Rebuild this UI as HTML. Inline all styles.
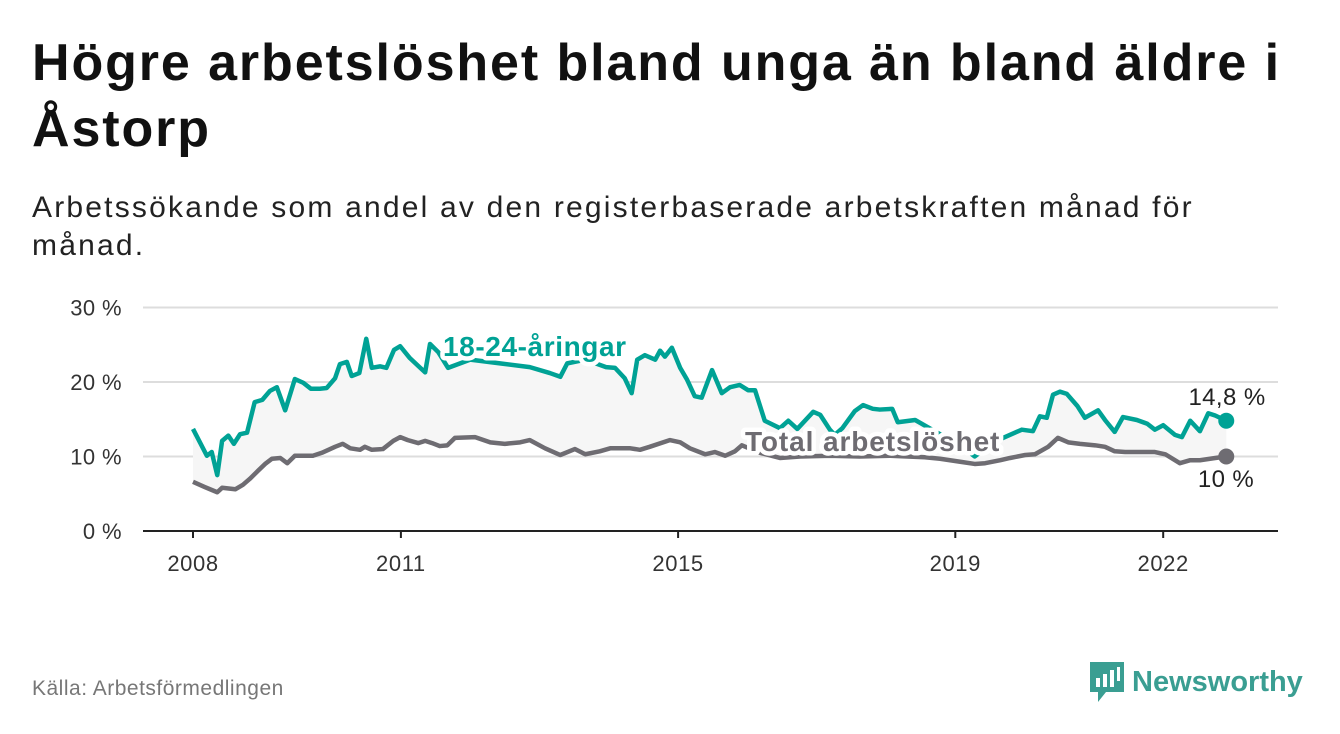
<!DOCTYPE html>
<html><head><meta charset="utf-8"><style>
body{margin:0;width:1340px;height:734px;background:#fff;font-family:"Liberation Sans","DejaVu Sans",sans-serif;overflow:hidden;position:relative}
h1{position:absolute;left:32px;top:30px;margin:0;font-size:52px;line-height:66px;font-weight:bold;color:#111;width:1310px;letter-spacing:1.9px}
.sub{position:absolute;left:32px;top:189px;font-size:30px;line-height:38px;color:#222;width:1290px;letter-spacing:2.2px}
.src{position:absolute;left:32px;top:677px;font-size:21px;color:#777;letter-spacing:0.5px}
</style></head><body>
<h1>Högre arbetslöshet bland unga än bland äldre i<br>Åstorp</h1>
<div class="sub">Arbetssökande som andel av den registerbaserade arbetskraften månad för<br>månad.</div>
<svg id="chart" width="1340" height="734" style="position:absolute;left:0;top:0"></svg>
<div class="src">Källa: Arbetsförmedlingen</div>
<div style="position:absolute;left:1088px;top:660px;display:flex;align-items:center">
<svg width="38" height="44" viewBox="0 0 38 44"><path d="M2 2h34v30H18l-8 10v-10H2z" fill="#3a9e92"/><rect x="8" y="18" width="4" height="9" fill="#fff"/><rect x="15" y="14" width="4" height="13" fill="#fff"/><rect x="22" y="10" width="4" height="17" fill="#fff"/><rect x="29" y="7" width="3" height="14" fill="#fff"/></svg>
<span style="font-size:29px;font-weight:bold;color:#3a9e92;margin-left:6px">Newsworthy</span></div>
<script>
const tickYears=[2008,2011,2015,2019,2022];
const yTicks=[0,10,20,30];
const youthDates=[0,.20,.27,.35,.42,.51,.59,.68,.78,.89,1.0,1.11,1.21,1.33,1.47,1.59,1.70,1.83,1.93,2.05,2.12,2.22,2.29,2.40,2.50,2.58,2.70,2.79,2.90,2.99,3.13,3.28,3.35,3.42,3.54,3.68,4.0,4.43,4.86,5.15,5.30,5.40,5.66,5.96,6.09,6.23,6.33,6.41,6.52,6.67,6.74,6.81,6.91,7.03,7.13,7.24,7.34,7.49,7.63,7.75,7.89,8.01,8.11,8.25,8.47,8.59,8.72,8.95,9.05,9.19,9.26,9.37,9.55,9.67,9.81,9.91,10.09,10.17,10.42,10.78,11.07,11.28,11.57,11.86,11.96,12.12,12.22,12.32,12.41,12.51,12.61,12.76,12.87,13.06,13.16,13.30,13.42,13.62,13.77,13.88,14.0,14.17,14.27,14.39,14.53,14.65,14.75,14.91];
const youthValues=[13.7,10.1,10.6,7.5,12.1,12.8,11.7,13,13.2,17.3,17.6,18.8,19.3,16.2,20.4,19.9,19.1,19.1,19.2,20.5,22.4,22.7,20.8,21.2,25.8,21.9,22.1,21.9,24.3,24.8,23.2,21.9,21.3,25.1,24,21.9,23,22.5,22,21.2,20.7,22.5,23,22,21.9,20.5,18.5,23,23.6,23,24.2,23.4,24.6,21.9,20.3,18.1,17.9,21.6,18.5,19.3,19.6,18.9,18.9,14.8,13.8,14.8,13.7,16,15.6,13.6,12.9,13.8,16.1,16.9,16.4,16.3,16.4,14.6,14.9,13,11.5,10,12,13.2,13.6,13.4,15.4,15.2,18.3,18.7,18.4,16.8,15.2,16.2,14.9,13.3,15.3,14.9,14.4,13.6,14.2,12.9,12.6,14.8,13.4,15.8,15.5,14.8];
const totalDates=[0,.17,.35,.42,.61,.72,.82,.94,1.04,1.14,1.26,1.36,1.47,1.73,1.86,2.05,2.16,2.27,2.41,2.48,2.58,2.74,2.89,2.99,3.10,3.25,3.35,3.45,3.56,3.67,3.78,4.07,4.29,4.50,4.72,4.86,5.08,5.30,5.51,5.66,5.87,6.02,6.31,6.45,6.59,6.88,7.03,7.17,7.39,7.53,7.68,7.82,7.92,8.18,8.47,8.76,9.19,9.62,10.06,10.56,10.78,11.07,11.28,11.43,11.65,11.79,12.01,12.15,12.34,12.48,12.63,12.80,13.02,13.16,13.30,13.45,13.88,14.03,14.24,14.39,14.53,14.75,14.91];
const totalValues=[6.6,5.9,5.2,5.8,5.6,6.2,7,8.1,9,9.7,9.8,9.1,10.1,10.1,10.5,11.3,11.7,11.1,10.9,11.3,10.9,11,12.1,12.6,12.2,11.8,12.1,11.8,11.4,11.5,12.5,12.6,11.9,11.7,11.9,12.2,11.1,10.2,11,10.3,10.7,11.1,11.1,10.9,11.3,12.2,11.9,11.1,10.3,10.6,10.1,10.7,11.5,10.5,9.8,10,10.1,10.0,10.1,9.9,9.7,9.3,9.0,9.1,9.5,9.8,10.2,10.3,11.3,12.5,11.9,11.7,11.5,11.3,10.7,10.6,10.6,10.3,9.1,9.5,9.5,9.8,10];

const svg=document.getElementById('chart'),NS='http://www.w3.org/2000/svg';
const X=t=>193+t*69.3, Y=v=>531-v*7.45, XY=y=>X(y-2008);
function mk(tag,a,txt){const e=document.createElementNS(NS,tag);for(const k in a)e.setAttribute(k,a[k]);if(txt!=null)e.textContent=txt;svg.appendChild(e);return e;}
yTicks.forEach(v=>{
 if(v>0){const g=mk('line',{x1:143,x2:1278,y1:Y(v),y2:Y(v),stroke:'#ddd','stroke-width':2});
 
 }
 const t=mk('text',{x:122,y:Y(v)+8,'text-anchor':'end','font-size':22,fill:'#333','letter-spacing':0.4},v+' %');
 
 
});
const ax=mk('line',{x1:143,x2:1278,y1:531,y2:531,stroke:'#222','stroke-width':2});


tickYears.forEach(yr=>{
 const tk=mk('line',{x1:XY(yr),x2:XY(yr),y1:531,y2:538,stroke:'#222','stroke-width':2});
 
 
 const t=mk('text',{x:XY(yr),y:571,'text-anchor':'middle','font-size':22,fill:'#333','letter-spacing':0.6},yr);
 
 
});
const yp=youthDates.map((d,i)=>[X(d),Y(youthValues[i])]);
const tp=totalDates.map((d,i)=>[X(d),Y(totalValues[i])]);
const poly=yp.concat(tp.slice().reverse());
const area=mk('path',{d:'M'+poly.map(p=>p.join(',')).join('L')+'Z',fill:'#f6f6f6'});


const tl=mk('path',{d:'M'+tp.map(p=>p.join(',')).join('L'),fill:'none',stroke:'#6e6c72','stroke-width':4.5,'stroke-linejoin':'round'});


const yl=mk('path',{d:'M'+yp.map(p=>p.join(',')).join('L'),fill:'none',stroke:'#00a295','stroke-width':4.5,'stroke-linejoin':'round'});


const ly=tp[tp.length-1], lyy=yp[yp.length-1];
const d1=mk('circle',{cx:lyy[0],cy:lyy[1],r:8,fill:'#00a295'});


const d2=mk('circle',{cx:ly[0],cy:ly[1],r:8,fill:'#6e6c72'});


const halo={'paint-order':'stroke',stroke:'#fff','stroke-width':9,'stroke-linejoin':'round'};
const l1=mk('text',Object.assign({x:443,y:356,'font-size':28,'font-weight':'bold',fill:'#00a295','letter-spacing':0.6},halo),'18-24-åringar');


const l2=mk('text',Object.assign({x:745,y:451,'font-size':28,'font-weight':'bold',fill:'#6e6c72','letter-spacing':0.9},halo),'Total arbetslöshet');


const v1=mk('text',Object.assign({x:1227,y:405,'text-anchor':'middle','font-size':24,fill:'#222','letter-spacing':0.4},halo),youthValues[youthValues.length-1].toString().replace('.',',')+' %');


const v2=mk('text',Object.assign({x:1226,y:487,'text-anchor':'middle','font-size':24,fill:'#222','letter-spacing':0.4},halo),totalValues[totalValues.length-1].toString().replace('.',',')+' %');


</script>
</body></html>
